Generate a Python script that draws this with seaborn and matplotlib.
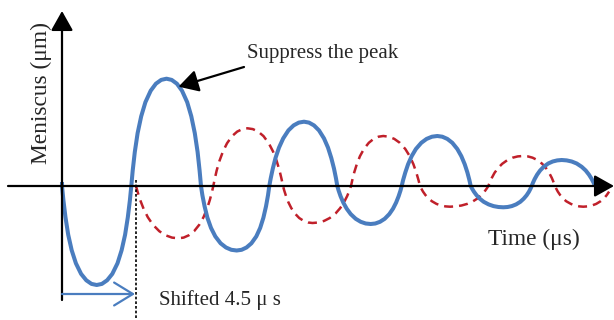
import matplotlib
matplotlib.use("Agg")
import matplotlib.pyplot as plt
import seaborn as sns

# 示意图，无刻度：时间与弯月面位移均为从图上读取的相对单位
blue_t = [0,
          0, 1.4, 3.5, 6.2, 9.7, 13.9, 19.1, 24.3, 29.5, 34.7,
          39.9, 45.1, 50.3, 55.5, 59.6, 63.1, 65.8, 67.9, 69.3,
          70.7, 72.8, 75.6, 79.2, 83.4, 88.7, 93.9, 99.2, 104.5,
          109.7, 114.9, 120.0, 125.2, 129.3, 132.8, 135.6, 137.6, 139,
          140.4, 142.6, 145.4, 149.0, 153.3, 158.6, 164.0, 169.3, 174.7,
          179.6, 184.5, 189.4, 194.3, 198.2, 201.4, 204.0, 206.0, 207.3,
          208.7, 210.8, 213.5, 217.0, 221.2, 226.4, 231.6, 236.8, 242,
          247.0, 252.0, 257.0, 262.0, 266.0, 269.3, 272.0, 274.0, 275.3,
          276.6, 278.6, 281.3, 284.7, 288.7, 293.7, 298.7, 303.7, 308.7,
          313.3, 318.0, 322.7, 327.3, 331.0, 334.1, 336.6, 338.5, 339.7,
          341.1, 343.3, 346.1, 349.7, 353.9, 359.3, 364.6, 370.0, 375.3,
          380.3, 385.3, 390.3, 395.3, 399.3, 402.7, 405.4, 407.4, 408.7,
          410.0, 412.0, 414.6, 417.8, 421.7, 426.6, 431.5, 436.4, 441.3,
          445.6, 449.8, 454.1, 458.3, 461.7, 464.6, 466.9, 468.6, 469.7,
          470.9, 472.7, 475.1, 478.1, 481.7, 486.2, 490.7, 495.2, 499.7,
          504.7, 509.7, 514.7, 519.7, 523.7, 527.0, 529.7, 531.7, 533]
blue_y = [4,
          0, -14.2, -31.4, -48.7, -64.3, -77.3, -87.9, -94.3, -97.9, -99,
          -97.9, -94.3, -87.9, -77.3, -64.3, -48.7, -31.4, -14.2, 0,
          15.4, 34.0, 52.8, 69.7, 83.8, 95.3, 102.3, 106.1, 107.3,
          106.1, 102.3, 95.3, 83.8, 69.7, 52.8, 34.0, 15.4, 0,
          -9.3, -20.4, -31.7, -41.9, -50.4, -57.3, -61.5, -63.8, -64.5,
          -63.8, -61.5, -57.3, -50.4, -41.9, -31.7, -20.4, -9.3, 0,
          7.6, 17.4, 28.0, 38.4, 47.6, 55.6, 60.6, 63.4, 64.3,
          63.4, 60.6, 55.6, 47.6, 38.4, 28.0, 17.4, 7.6, 0,
          -4.5, -10.3, -16.6, -22.7, -28.1, -32.8, -35.8, -37.5, -38,
          -37.5, -35.8, -32.8, -28.1, -22.7, -16.6, -10.3, -4.5, 0,
          5.9, 13.5, 21.8, 29.9, 37.0, 43.2, 47.1, 49.3, 50,
          49.3, 47.1, 43.2, 37.0, 29.9, 21.8, 13.5, 5.9, 0,
          -2.5, -5.8, -9.3, -12.7, -15.8, -18.4, -20.1, -21.0, -21.3,
          -21.0, -20.1, -18.4, -15.8, -12.7, -9.3, -5.8, -2.5, 0,
          3.1, 7.0, 11.3, 15.5, 19.2, 22.5, 24.5, 25.6, 26,
          25.6, 24.5, 22.5, 19.2, 15.5, 11.3, 7.0, 3.1, 0]

red_t = [74, 75.7, 78.2, 81.6, 85.8, 90.9, 97.3, 103.6, 110.0, 116.3,
         121.6, 126.8, 132.1, 137.3, 141.5, 145.0, 147.8, 149.9, 151.3,
         152.7, 154.7, 157.5, 160.9, 165.0, 170.1, 175.2, 180.4, 185.5,
         190.8, 196.2, 201.5, 206.8, 211.1, 214.6, 217.5, 219.6, 221,
         222.2, 224.0, 226.3, 229.3, 232.8, 237.2, 241.7, 246.1, 250.5,
         256.3, 262.1, 267.8, 273.6, 278.2, 282.1, 285.2, 287.5, 289,
         290.3, 292.2, 294.8, 298.0, 301.9, 306.8, 311.6, 316.5, 321.3,
         326.8, 332.3, 337.8, 343.3, 347.7, 351.4, 354.3, 356.5, 358,
         359.2, 361.0, 363.4, 366.4, 370.0, 374.5, 379.0, 383.5, 388,
         393.7, 399.5, 405.2, 411.0, 415.6, 419.4, 422.5, 424.8, 426.3,
         427.7, 429.8, 432.5, 436.0, 440.2, 445.4, 450.6, 455.8, 461,
         465.8, 470.6, 475.4, 480.2, 484.0, 487.2, 489.8, 491.7, 493,
         494.1, 495.8, 498.1, 500.9, 504.3, 508.9, 512.8, 517.4, 521.3,
         525.6, 529.9, 534.2, 538.5, 542.0, 544.8, 547.1]
red_y = [0, -6.2, -14.1, -22.8, -31.2, -38.7, -45.2, -49.3, -51.6, -52.3,
         -51.6, -49.3, -45.2, -38.7, -31.2, -22.8, -14.1, -6.2, 0,
         6.8, 15.6, 25.2, 34.4, 42.7, 49.9, 54.4, 56.9, 57.7,
         56.9, 54.4, 49.9, 42.7, 34.4, 25.2, 15.6, 6.8, 0,
         -4.4, -10.0, -16.1, -22.1, -27.4, -32.0, -34.9, -36.5, -37,
         -36.5, -34.9, -32.0, -27.4, -22.1, -16.1, -10.0, -4.4, 0,
         5.9, 13.5, 21.8, 29.9, 37.0, 43.2, 47.1, 49.3, 50,
         49.3, 47.1, 43.2, 37.0, 29.9, 21.8, 13.5, 5.9, 0,
         -2.4, -5.6, -9.0, -12.4, -15.3, -17.9, -19.5, -20.4, -20.7,
         -20.4, -19.5, -17.9, -15.3, -12.4, -9.0, -5.6, -2.4, 0,
         3.5, 8.1, 13.1, 17.9, 22.2, 25.9, 28.3, 29.6, 30,
         29.6, 28.3, 25.9, 22.2, 17.9, 13.1, 8.1, 3.5, 0,
         -2.4, -5.6, -9.0, -12.4, -15.3, -17.9, -19.5, -20.4, -20.7,
         -20.4, -19.5, -17.9, -15.3, -12.4, -9.0, -5.6]

shift = 74              # 4.5 μs 对应的相对时间
peak_t, peak_y = 104.5, 107.3

sns.set_theme(style="white")
plt.rcParams["font.family"] = ["Liberation Serif", "DejaVu Serif"]

fig = plt.figure(figsize=(6.14, 3.2), dpi=100)
ax = fig.add_axes([0, 0, 1, 1])
ax.set_xlim(-62, 552)
ax.set_ylim(-134, 186)
ax.axis("off")

blue = "#4a7dbf"
red = "#c0202a"
head = "-|>,head_length=0.8,head_width=0.45"

# 坐标轴箭头
ax.annotate("", xy=(552, 0), xytext=(-54, 0),
            arrowprops=dict(arrowstyle=head, mutation_scale=15, lw=1.6,
                            color="black", shrinkA=0, shrinkB=0))
ax.annotate("", xy=(0, 175), xytext=(0, -114),
            arrowprops=dict(arrowstyle=head, mutation_scale=15, lw=1.6,
                            color="black", shrinkA=0, shrinkB=0))

sns.lineplot(x=red_t, y=red_y, sort=False, estimator=None, ax=ax, color=red,
             lw=1.8, linestyle=(0, (3.6, 2.4)))
sns.lineplot(x=blue_t, y=blue_y, sort=False, estimator=None, ax=ax, color=blue,
             lw=2.9, solid_joinstyle="round", solid_capstyle="butt")

# 平移标记
ax.plot([shift, shift], [6, -134], color="black", lw=1.2, linestyle=(0, (1.6, 1.2)))
ax.annotate("", xy=(shift - 1, -108), xytext=(0, -108),
            arrowprops=dict(arrowstyle="->,head_length=0.9,head_width=0.55",
                            mutation_scale=15, lw=1.6, color=blue,
                            shrinkA=0, shrinkB=0))
ax.text(97, -119, "Shifted 4.5 μ s", fontsize=15, ha="left", va="baseline")

# 峰值标注
ax.annotate("", xy=(peak_t + 12, peak_y - 8), xytext=(182, 119),
            arrowprops=dict(arrowstyle=head, mutation_scale=15, lw=1.6,
                            color="black", shrinkA=0, shrinkB=0))
ax.text(185, 128, "Suppress the peak", fontsize=15, ha="left", va="baseline")

ax.text(426, -59, "Time (μs)", fontsize=16.8, ha="left", va="baseline")
ax.text(-21, 93, "Meniscus (μm)", fontsize=16.8, rotation=90, ha="center", va="center")

fig.savefig("out.png", dpi=100)
